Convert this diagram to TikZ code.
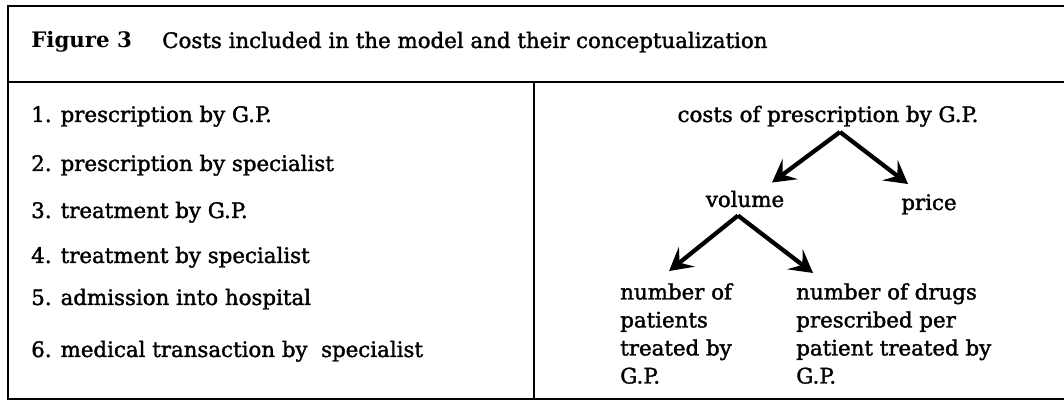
\documentclass[tikz,border=0pt]{standalone}
\usepackage{fontspec}
\setmainfont{DejaVu Serif}
\newfontfamily\heavy{DejaVu Serif}[FakeBold=1.6]
\usetikzlibrary{arrows.meta}
\begin{document}
\begin{tikzpicture}[x=0.75pt,y=-0.75pt,
  frame/.style={line width=2.2pt},
  txt/.style={inner sep=0pt,font=\heavy\fontsize{16}{21}\selectfont},
  item/.style={txt,anchor=base west},
  term/.style={txt,anchor=base},
  leaf/.style={txt,anchor=north west,align=left},
  branch/.style={line width=3.2pt,
    -{Stealth[length=17pt,width=19pt,inset=7pt]}}
]
\useasboundingbox (0,0) rectangle (1064,402);

% frame: open on the right
\draw[frame] (1064,6) -- (8,6) -- (8,399) -- (1064,399);
\draw[frame] (8,82) -- (1064,82);
\draw[frame] (534,82) -- (534,399);

% title
\node[item,font=\fontsize{16}{21}\selectfont\bfseries] (fig) at (31,48) {Figure 3};
\node[item] (title) at (162,48) {Costs included in the model and their conceptualization};

% list of cost categories
\node[item] (c1) at (31,122) {1. prescription by G.P.};
\node[item] (c2) at (31,171) {2. prescription by specialist};
\node[item] (c3) at (31,218) {3. treatment by G.P.};
\node[item] (c4) at (31,263) {4. treatment by specialist};
\node[item] (c5) at (31,305) {5. admission into hospital};
\node[item] (c6) at (31,357) {6. medical transaction by~~specialist};

% conceptual tree
\node[term] (costs)  at (828,122) {costs of prescription by G.P.};
\node[term] (volume) at (745,207) {volume};
\node[term] (price)  at (929,210) {price};
\node[leaf] (patients) at (620,283) {number of\\patients\\treated by\\G.P.};
\node[leaf] (drugs)    at (796,283) {number of drugs\\prescribed per\\patient treated by\\G.P.};

\draw[branch] ([shift={(12,5)}]costs.south) -- ([shift={(27,-8)}]volume.north);
\draw[branch] ([shift={(12,5)}]costs.south) -- ([shift={(-21,-10)}]price.north);
\draw[branch] ([shift={(-7,8)}]volume.south) -- ([shift={(-7,-12)}]patients.north);
\draw[branch] ([shift={(-7,8)}]volume.south) -- ([shift={(17,-10)}]drugs.north west);
\end{tikzpicture}
\end{document}
